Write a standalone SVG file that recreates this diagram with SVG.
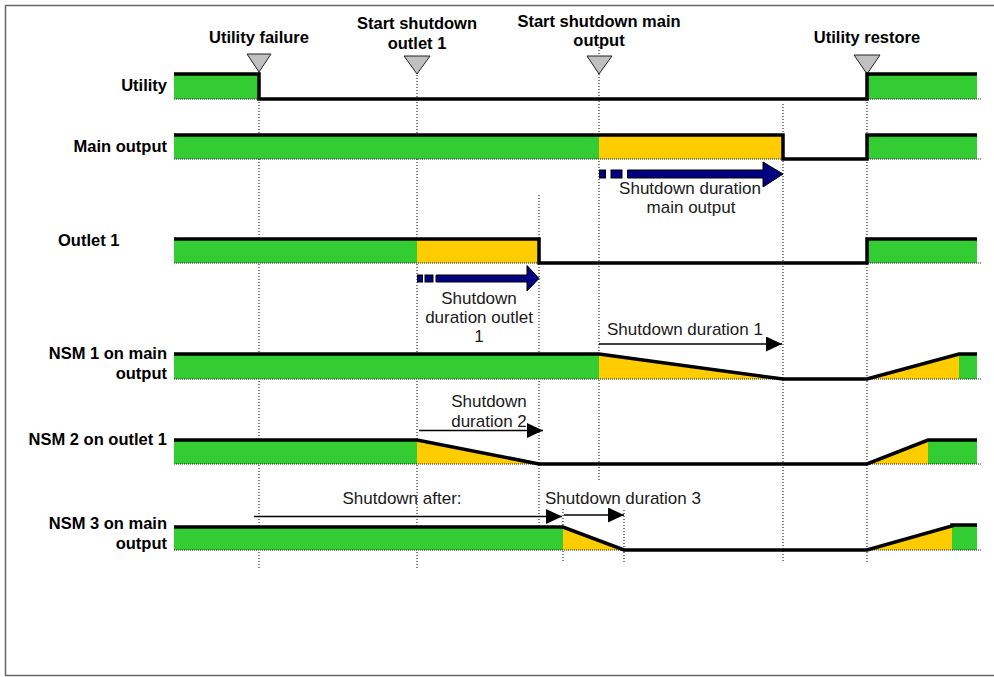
<svg xmlns="http://www.w3.org/2000/svg" width="994" height="677" viewBox="0 0 994 677">
<defs>
<style>
.bl{font-family:"Liberation Sans",Arial,sans-serif;font-weight:bold;font-size:16.5px;fill:#000}
.nl{font-family:"Liberation Sans",Arial,sans-serif;font-size:17px;fill:#1a1a1a}
.g{fill:#33CC33;stroke:none}
.y{fill:#FFCC00;stroke:none}
.lvl{fill:none;stroke:#000;stroke-width:3.5;stroke-linejoin:miter}
.base{stroke:#222;stroke-width:1;stroke-dasharray:1 1}
.vd{stroke:#000;stroke-width:1;stroke-dasharray:1 2}
.tri{fill:#C0C0C0;stroke:#222;stroke-width:1}
.ar{stroke:#000;stroke-width:1.5;fill:none}
.blk{fill:#000080;stroke:#000;stroke-width:1}
</style>
<marker id="ah" markerWidth="16" markerHeight="15" refX="16" refY="7.5" orient="auto" markerUnits="userSpaceOnUse">
<path d="M0,0 L16,7.5 L0,15 Z" fill="#000"/>
</marker>
</defs>
<rect x="5.5" y="5.5" width="990" height="670" fill="#fff" stroke="#666" stroke-width="1.5"/>

<g id="guides">
<line class="vd" x1="259" y1="57" x2="259" y2="568"/>
<line class="vd" x1="417" y1="60" x2="417" y2="568"/>
<line class="vd" x1="599" y1="47" x2="599" y2="482"/>
<line class="vd" x1="783" y1="104" x2="783" y2="562"/>
<line class="vd" x1="867" y1="57" x2="867" y2="564"/>
<line class="vd" x1="539" y1="195" x2="539" y2="541"/>
<line class="vd" x1="563" y1="509" x2="563" y2="562"/>
<line class="vd" x1="624" y1="510" x2="624" y2="562"/>
</g>

<g id="events">
<g id="ev-utility-failure">
<text class="bl" x="259" y="43" text-anchor="middle">Utility failure</text>
<path class="tri" d="M247,54 L271,54 L259,72 Z"/>
</g>
<g id="ev-start-outlet1">
<text class="bl" x="417" y="29" text-anchor="middle">Start shutdown</text>
<text class="bl" x="417" y="49" text-anchor="middle">outlet 1</text>
<path class="tri" d="M404,56 L430,56 L417,74 Z"/>
</g>
<g id="ev-start-main">
<text class="bl" x="599" y="27" text-anchor="middle">Start shutdown main</text>
<text class="bl" x="599" y="46" text-anchor="middle">output</text>
<path class="tri" d="M587,56 L612,56 L599,74 Z"/>
</g>
<g id="ev-utility-restore">
<text class="bl" x="867" y="43" text-anchor="middle">Utility restore</text>
<path class="tri" d="M854,55 L880,55 L867,74 Z"/>
</g>
</g>

<g id="row-utility">
<text class="bl" x="167" y="91" text-anchor="end">Utility</text>
<rect class="g" x="174" y="74" width="85" height="25"/>
<rect class="g" x="867" y="74" width="110" height="25"/>
<line class="base" x1="174" y1="99" x2="981" y2="99"/>
<polyline class="lvl" points="174,74 259,74 259,99 867,99 867,74 977,74"/>
</g>

<g id="row-main">
<text class="bl" x="167" y="152" text-anchor="end">Main output</text>
<rect class="g" x="174" y="135" width="425" height="24"/>
<rect class="y" x="599" y="135" width="184" height="24"/>
<rect class="g" x="867" y="135" width="110" height="24"/>
<line class="base" x1="174" y1="159" x2="981" y2="159"/>
<polyline class="lvl" points="174,135 783,135 783,159 867,159 867,135 977,135"/>
</g>

<g id="row-outlet1">
<text class="bl" x="58" y="246">Outlet 1</text>
<rect class="g" x="174" y="239" width="243" height="24"/>
<rect class="y" x="417" y="239" width="122" height="24"/>
<rect class="g" x="867" y="239" width="110" height="24"/>
<line class="base" x1="174" y1="263" x2="981" y2="263"/>
<polyline class="lvl" points="174,239 539,239 539,263 867,263 867,239 977,239"/>
</g>

<g id="row-nsm1">
<text class="bl" x="167" y="359" text-anchor="end">NSM 1 on main</text>
<text class="bl" x="167" y="379" text-anchor="end">output</text>
<rect class="g" x="174" y="354" width="425" height="25"/>
<path class="y" d="M599,354 L783,379 L599,379 Z"/>
<path class="y" d="M867,379 L959,354 L959,379 Z"/>
<rect class="g" x="959" y="354" width="18" height="25"/>
<line class="base" x1="174" y1="379" x2="981" y2="379"/>
<polyline class="lvl" points="174,354 599,354 783,379 867,379 959,354 977,354"/>
</g>

<g id="row-nsm2">
<text class="bl" x="167" y="445" text-anchor="end">NSM 2 on outlet 1</text>
<rect class="g" x="174" y="440" width="243" height="24"/>
<path class="y" d="M417,440 L539,464 L417,464 Z"/>
<path class="y" d="M867,464 L928,440 L928,464 Z"/>
<rect class="g" x="928" y="440" width="49" height="24"/>
<line class="base" x1="174" y1="464" x2="981" y2="464"/>
<polyline class="lvl" points="174,440 417,440 539,464 867,464 928,440 977,440"/>
</g>

<g id="row-nsm3">
<text class="bl" x="167" y="529" text-anchor="end">NSM 3 on main</text>
<text class="bl" x="167" y="549" text-anchor="end">output</text>
<rect class="g" x="174" y="527" width="389" height="23"/>
<path class="y" d="M563,527 L624,550 L563,550 Z"/>
<path class="y" d="M867,550 L952,526 L952,550 Z"/>
<rect class="g" x="952" y="526" width="25" height="24"/>
<line class="base" x1="174" y1="550" x2="981" y2="550"/>
<polyline class="lvl" points="174,527 563,527 624,550 867,550 952,526 952,525 977,525"/>
</g>

<g id="connectors">
<g id="arrow-main">
<rect class="blk" x="599.5" y="170" width="6" height="8"/>
<rect class="blk" x="611" y="170" width="11" height="8"/>
<path class="blk" d="M627.5,170 L763,170 L763,162 L783,174 L763,187 L763,178 L627.5,178 Z"/>
</g>
<g id="arrow-outlet1">
<rect class="blk" x="417.5" y="275" width="5" height="7"/>
<rect class="blk" x="425" y="275" width="8" height="7"/>
<path class="blk" d="M436,275 L527,275 L527,265.5 L539,278.5 L527,291 L527,282 L436,282 Z"/>
</g>
<line class="ar" x1="599" y1="344" x2="782" y2="344" marker-end="url(#ah)"/>
<line class="ar" x1="419" y1="430.5" x2="543" y2="430.5" marker-end="url(#ah)"/>
<line class="ar" x1="254" y1="516.5" x2="562" y2="516.5" marker-end="url(#ah)"/>
<line class="ar" x1="564" y1="515" x2="624" y2="515" marker-end="url(#ah)"/>
</g>

<g id="annotations">
<text class="nl" x="690" y="194" text-anchor="middle">Shutdown duration</text>
<text class="nl" x="691" y="213" text-anchor="middle">main output</text>
<text class="nl" x="479" y="304" text-anchor="middle">Shutdown</text>
<text class="nl" x="479" y="323" text-anchor="middle">duration outlet</text>
<text class="nl" x="479" y="342" text-anchor="middle">1</text>
<text class="nl" x="607" y="335">Shutdown duration 1</text>
<text class="nl" x="489" y="407" text-anchor="middle">Shutdown</text>
<text class="nl" x="489" y="427" text-anchor="middle">duration 2</text>
<text class="nl" x="402" y="504" text-anchor="middle">Shutdown after:</text>
<text class="nl" x="545" y="504">Shutdown duration 3</text>
</g>
</svg>
